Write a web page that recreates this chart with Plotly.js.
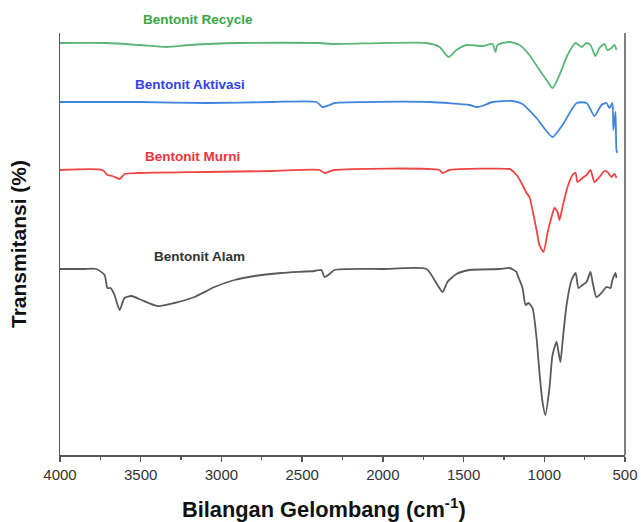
<!DOCTYPE html>
<html>
<head>
<meta charset="utf-8">
<script src="https://cdn.plot.ly/plotly-3.0.1.min.js"></script>
<style>html,body{margin:0;padding:0;background:#fff;}#chart{width:641px;height:522px;}</style>
</head>
<body>
<div id="chart"></div>
<script>
// Wavenumbers (cm-1) and transmittance (arbitrary, stacked offsets)
const alamWn = [4000,3850,3774,3724,3706,3687,3662,3631,3600,3557,3495,3396,3291,3167,3043,2919,2795,2628,2423,2380,2361,2330,2300,2000,1730,1680,1630,1600,1544,1463,1277,1215,1172,1166,1135,1116,1098,1073,1048,1030,1011,993,968,949,924,912,900,887,862,831,806,788,763,738,714,701,677,646,615,590,578,559,553];
const alamT  = [186,186,186,180,167,167,160,145,157,159,155,149,152,158,168,175,179,182,184,185,178,181,185,186,186,175,163,173,181,185,186,187,183,180,167,150,152,147,117,83,53,40,67,100,113,103,93,113,150,175,182,167,170,173,183,173,158,162,168,167,175,182,177];

const murniWn = [4000,3737,3706,3675,3631,3600,3508,3092,2684,2392,2361,2300,1649,1630,1587,1215,1203,1172,1141,1110,1092,1073,1048,1030,1005,980,955,937,918,906,887,856,825,806,794,763,738,714,689,658,627,609,584,565,553];
const murniT  = [285,285,280,279,276,281,282,283,284,285,282,285,285,282,285,286,285,280,272,262,258,245,225,210,203,222,238,247,243,235,248,268,280,282,273,277,280,285,273,278,284,283,278,281,277];

const aktivasiWn = [4000,3508,3092,2684,2411,2374,2330,2300,1711,1463,1420,1383,1321,1197,1135,1048,949,887,800,738,689,646,615,596,578,572,559,553,547];
const aktivasiT  = [353,353,352,353,353,348,350,352,353,350,348,349,353,354,351,337,318,330,352,352,339,350,352,347,352,325,343,305,302];

const recycleWn = [4000,3712,3508,3340,3198,2888,2392,2312,1730,1649,1593,1544,1482,1383,1321,1302,1290,1215,1153,1092,1030,986,949,906,856,806,769,738,714,683,658,627,609,584,565,553];
const recycleT  = [412,412,410,408,410,412,412,411,412,408,398,405,410,409,411,403,410,413,410,400,385,375,367,380,400,412,408,412,410,399,407,411,405,407,410,405];

const seriesNames = ['Bentonit Alam','Bentonit Murni','Bentonit Aktivasi','Bentonit Recycle'];
const xTicks = [4000,3500,3000,2500,2000,1500,1000,500];

const lineColors = ['#5a5a5a','#ef4444','#3f85dd','#5bb577'];
const textColors = ['#333333','#e8353a','#3340e8','#3aa64a'];

const traces = [
  {x: alamWn, y: alamT},
  {x: murniWn, y: murniT},
  {x: aktivasiWn, y: aktivasiT},
  {x: recycleWn, y: recycleT}
].map((d, i) => ({
  x: d.x, y: d.y, type: 'scatter', mode: 'lines', name: seriesNames[i],
  line: {color: lineColors[i], width: 1.8, shape: 'spline', smoothing: 0.6},
  hoverinfo: 'skip'
}));

// label positions (wavenumber, paper y)
const labelX = [3136, 3179, 3197, 3148];
const labelY = [0.471, 0.708, 0.879, 1.031];

const FONT = 'Liberation Sans, Arial, sans-serif';

const annotations = seriesNames.map((n, i) => ({
  x: labelX[i], y: labelY[i], xref: 'x', yref: 'paper',
  text: '<b>' + n + '</b>', showarrow: false,
  font: {family: FONT, size: 13.5, color: textColors[i]},
  xanchor: 'center', yanchor: 'middle'
}));

// x-axis title (placed as annotation to match its off-centre position)
annotations.push({
  x: 0.467, y: -0.126, xref: 'paper', yref: 'paper',
  text: '<b>Bilangan Gelombang (cm<sup>-1</sup>)</b>', showarrow: false,
  font: {family: FONT, size: 21.8, color: '#111'},
  xanchor: 'center', yanchor: 'middle'
});

const layout = {
  width: 641, height: 522,
  margin: {l: 60, r: 16, t: 33, b: 67},
  paper_bgcolor: '#fff', plot_bgcolor: '#fff',
  showlegend: false,
  xaxis: {
    range: [4000, 500],
    tickvals: xTicks, ticktext: xTicks.map(String),
    ticks: 'outside', ticklen: 5, tickwidth: 1.3, tickcolor: '#555',
    minor: {dtick: 250, tick0: 500, ticks: 'outside', ticklen: 3, tickwidth: 1.2, tickcolor: '#555'},
    showline: true, linecolor: '#555', linewidth: 1.5,
    showgrid: false, zeroline: false,
    tickfont: {family: FONT, size: 15, color: '#333'}
  },
  yaxis: {
    range: [0, 422],
    showticklabels: false, ticks: '',
    showline: true, linecolor: '#555', linewidth: 1.5,
    showgrid: false, zeroline: false,
    title: {text: '<b>Transmitansi (%)</b>', standoff: 26,
            font: {family: FONT, size: 21, color: '#111'}}
  },
  shapes: [{type: 'line', xref: 'paper', yref: 'paper', x0: 1, x1: 1, y0: 0, y1: 1,
            line: {color: '#555', width: 1.5}}],
  annotations: annotations
};

Plotly.newPlot('chart', traces, layout, {displayModeBar: false, staticPlot: true});
</script>
</body>
</html>
